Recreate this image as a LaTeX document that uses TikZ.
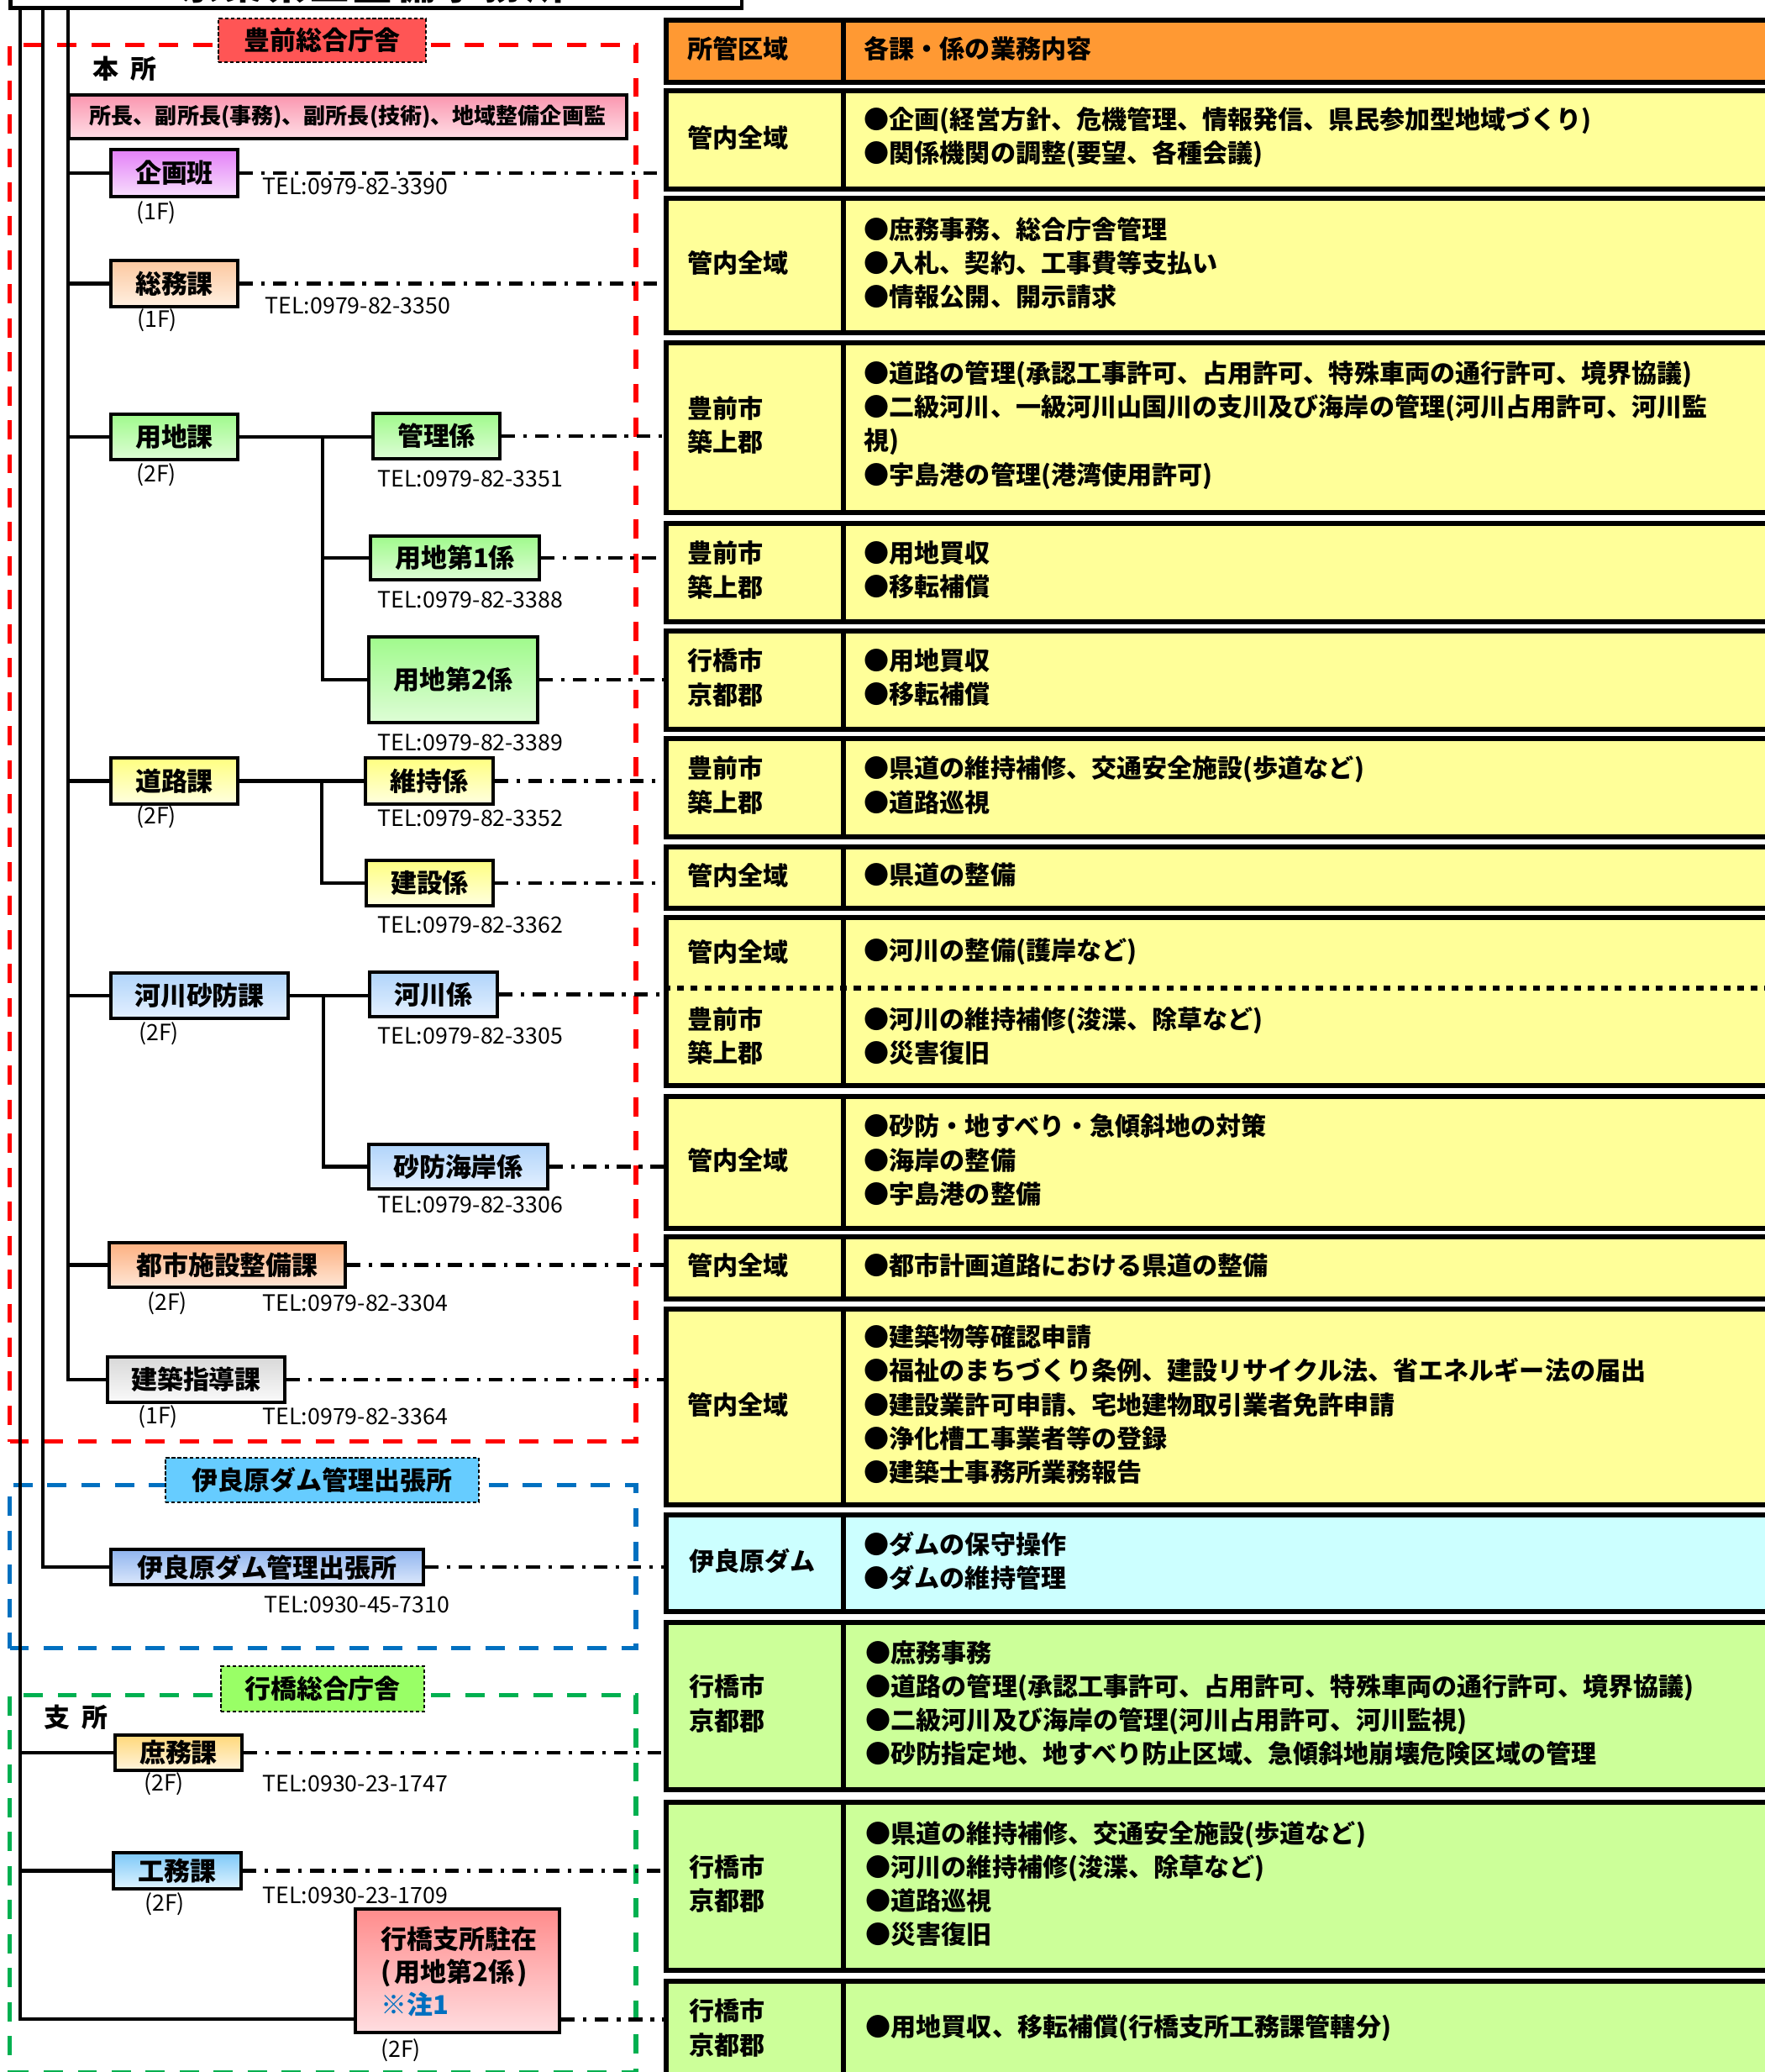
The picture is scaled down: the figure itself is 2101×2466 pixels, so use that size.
\documentclass[tikz,border=0pt]{standalone}
\usepackage{fontspec}
\setmainfont{Noto Sans CJK JP}
\usetikzlibrary{calc}
\definecolor{hdr}{RGB}{255,153,51}
\definecolor{yel}{RGB}{255,255,153}
\definecolor{cya}{RGB}{204,255,255}
\definecolor{grn}{RGB}{204,255,153}
\definecolor{redg}{RGB}{255,0,0}
\definecolor{blug}{RGB}{0,112,192}
\definecolor{grng}{RGB}{0,176,80}
\definecolor{tagR}{RGB}{255,85,85}
\definecolor{tagB}{RGB}{102,204,255}
\definecolor{tagG}{RGB}{153,255,102}
\definecolor{vioT}{RGB}{228,128,248}\definecolor{vioB}{RGB}{247,222,252}
\definecolor{pchT}{RGB}{252,200,160}\definecolor{pchB}{RGB}{255,240,225}
\definecolor{gT}{RGB}{160,250,140}\definecolor{gB}{RGB}{222,253,214}
\definecolor{yT}{RGB}{255,255,128}\definecolor{yB}{RGB}{255,255,224}
\definecolor{bT}{RGB}{176,212,250}\definecolor{bB}{RGB}{228,240,255}
\definecolor{oT}{RGB}{252,176,128}\definecolor{oB}{RGB}{255,230,214}
\definecolor{gyT}{RGB}{216,216,216}\definecolor{gyB}{RGB}{250,250,250}
\definecolor{dbT}{RGB}{143,180,238}\definecolor{dbB}{RGB}{220,232,252}
\definecolor{goT}{RGB}{255,216,122}\definecolor{goB}{RGB}{255,244,220}
\definecolor{skT}{RGB}{124,200,248}\definecolor{skB}{RGB}{224,244,255}
\definecolor{pkT}{RGB}{255,140,140}\definecolor{pkB}{RGB}{255,221,224}
\definecolor{bnT}{RGB}{250,150,175}\definecolor{bnB}{RGB}{255,222,230}
\definecolor{notec}{RGB}{0,112,192}
\newcommand\fntTab{\fontsize{8.55pt}{11.4pt}\selectfont\bfseries}
\newcommand\fntBox{\fontsize{8.8pt}{11.1pt}\selectfont\bfseries}
\newcommand\fntBan{\fontsize{7.4pt}{9pt}\selectfont\bfseries}
\newcommand\fntTel{\fontsize{7.6pt}{9pt}\selectfont}
\newcommand\fntTitle{\fontsize{13.1pt}{15pt}\selectfont\bfseries}
\begin{document}
\begin{tikzpicture}[x=0.01cm,y=-0.01cm,
  box/.style={draw=black, line width=1.2pt, inner sep=0pt, font=\fntBox},
  conn/.style={line width=1.3pt},
  dd/.style={line width=1.4pt, dash pattern=on 4.6pt off 2.8pt on 1.2pt off 2.8pt},
  grp/.style={line width=1.5pt, dash pattern=on 6.5pt off 5pt, inner sep=0pt, anchor=north west},
  tag/.style={draw=black, line width=0.6pt, dash pattern=on 1.2pt off 0.8pt, inner sep=0pt, font=\fntBox},
  cell/.style={draw=black, line width=1.7pt, inner sep=0pt, anchor=north west},
  ctext/.style={anchor=west, align=left, font=\fntTab, inner sep=0pt},
  tel/.style={anchor=west, font=\fntTel, inner sep=0pt},
  flr/.style={font=\fntTel, inner sep=0pt},
]
\useasboundingbox (0,0) rectangle (2101,2466);
\fill[white] (0,0) rectangle (2101,2466);

% ---------- title box (cut off at the top) ----------
\node[draw=black, line width=1.3pt, minimum width=8.7cm, minimum height=1cm, anchor=south west, inner sep=0pt] (title) at (10,12) {};
\node[anchor=base, font=\fntTitle, inner sep=0pt] (titletext) at (444,-1) {京\hspace{1.5pt}築\hspace{1.5pt}県\hspace{1.5pt}土\hspace{1.5pt}整\hspace{1.5pt}備\hspace{1.5pt}事\hspace{1.5pt}務\hspace{1.5pt}所};

% ---------- dashed group frames ----------
\node[grp, draw=redg, minimum width=7.45cm, minimum height=16.61cm] (gred) at (9,51) {};
\node[grp, draw=blug, minimum width=7.45cm, minimum height=1.94cm] (gblue) at (9,1765) {};
\node[grp, draw=grng, minimum width=7.45cm, minimum height=4.49cm] (ggreen) at (9,2015) {};

% ---------- table ----------
\node[cell, fill=hdr, minimum width=2.11cm, minimum height=0.74cm] (r0) at (790,21) {};
\node[cell, fill=hdr, minimum width=11.39cm, minimum height=0.74cm] (c0) at (1001,21) {};
\node[ctext] (t0) at (818,58) {所管区域};
\node[ctext] (d0) at (1028,58) {各課・係の業務内容};
\node[cell, fill=yel, minimum width=2.11cm, minimum height=1.17cm] (r1) at (790,105) {};
\node[cell, fill=yel, minimum width=11.39cm, minimum height=1.17cm] (c1) at (1001,105) {};
\node[ctext] (t1) at (818,163.5) {管内全域};
\node[ctext] (d1) at (1028,163.5) {●企画(経営方針、危機管理、情報発信、県民参加型地域づくり)\\●関係機関の調整(要望、各種会議)};
\node[cell, fill=yel, minimum width=2.11cm, minimum height=1.60cm] (r2) at (790,233) {};
\node[cell, fill=yel, minimum width=11.39cm, minimum height=1.60cm] (c2) at (1001,233) {};
\node[ctext] (t2) at (818,313) {管内全域};
\node[ctext] (d2) at (1028,313) {●庶務事務、総合庁舎管理\\●入札、契約、工事費等支払い\\●情報公開、開示請求};
\node[cell, fill=yel, minimum width=2.11cm, minimum height=2.02cm] (r3) at (790,405) {};
\node[cell, fill=yel, minimum width=11.39cm, minimum height=2.02cm] (c3) at (1001,405) {};
\node[ctext] (t3) at (818,506) {豊前市\\築上郡};
\node[ctext] (d3) at (1028,506) {●道路の管理(承認工事許可、占用許可、特殊車両の通行許可、境界協議)\\●二級河川、一級河川山国川の支川及び海岸の管理(河川占用許可、河川監\\視)\\●宇島港の管理(港湾使用許可)};
\node[cell, fill=yel, minimum width=2.11cm, minimum height=1.17cm] (r4) at (790,620) {};
\node[cell, fill=yel, minimum width=11.39cm, minimum height=1.17cm] (c4) at (1001,620) {};
\node[ctext] (t4) at (818,678.5) {豊前市\\築上郡};
\node[ctext] (d4) at (1028,678.5) {●用地買収\\●移転補償};
\node[cell, fill=yel, minimum width=2.11cm, minimum height=1.17cm] (r5) at (790,748) {};
\node[cell, fill=yel, minimum width=11.39cm, minimum height=1.17cm] (c5) at (1001,748) {};
\node[ctext] (t5) at (818,806.5) {行橋市\\京都郡};
\node[ctext] (d5) at (1028,806.5) {●用地買収\\●移転補償};
\node[cell, fill=yel, minimum width=2.11cm, minimum height=1.17cm] (r6) at (790,876) {};
\node[cell, fill=yel, minimum width=11.39cm, minimum height=1.17cm] (c6) at (1001,876) {};
\node[ctext] (t6) at (818,934.5) {豊前市\\築上郡};
\node[ctext] (d6) at (1028,934.5) {●県道の維持補修、交通安全施設(歩道など)\\●道路巡視};
\node[cell, fill=yel, minimum width=2.11cm, minimum height=0.73cm] (r7) at (790,1005) {};
\node[cell, fill=yel, minimum width=11.39cm, minimum height=0.73cm] (c7) at (1001,1005) {};
\node[ctext] (t7) at (818,1041.5) {管内全域};
\node[ctext] (d7) at (1028,1041.5) {●県道の整備};
\node[cell, fill=yel, minimum width=2.11cm, minimum height=2.00cm] (r8) at (790,1089) {};
\node[cell, fill=yel, minimum width=11.39cm, minimum height=2.00cm] (c8) at (1001,1089) {};
\draw[line width=1.7pt, dash pattern=on 2.3pt off 2.3pt] (r8.west |- 0,1176) -- (c8.east |- 0,1176);
\node[ctext] (t8a) at (818,1133) {管内全域};
\node[ctext] (d8a) at (1028,1133) {●河川の整備(護岸など)};
\node[ctext] (t8b) at (818,1233) {豊前市\\築上郡};
\node[ctext] (d8b) at (1028,1233) {●河川の維持補修(浚渫、除草など)\\●災害復旧};
\node[cell, fill=yel, minimum width=2.11cm, minimum height=1.57cm] (r9) at (790,1302) {};
\node[cell, fill=yel, minimum width=11.39cm, minimum height=1.57cm] (c9) at (1001,1302) {};
\node[ctext] (t9) at (818,1380.5) {管内全域};
\node[ctext] (d9) at (1028,1380.5) {●砂防・地すべり・急傾斜地の対策\\●海岸の整備\\●宇島港の整備};
\node[cell, fill=yel, minimum width=2.11cm, minimum height=0.74cm] (r10) at (790,1469) {};
\node[cell, fill=yel, minimum width=11.39cm, minimum height=0.74cm] (c10) at (1001,1469) {};
\node[ctext] (t10) at (818,1506) {管内全域};
\node[ctext] (d10) at (1028,1506) {●都市計画道路における県道の整備};
\node[cell, fill=yel, minimum width=2.11cm, minimum height=2.33cm] (r11) at (790,1555) {};
\node[cell, fill=yel, minimum width=11.39cm, minimum height=2.33cm] (c11) at (1001,1555) {};
\node[ctext] (t11) at (818,1671.5) {管内全域};
\node[ctext] (d11) at (1028,1671.5) {●建築物等確認申請\\●福祉のまちづくり条例、建設リサイクル法、省エネルギー法の届出\\●建設業許可申請、宅地建物取引業者免許申請\\●浄化槽工事業者等の登録\\●建築士事務所業務報告};
\node[cell, fill=cya, minimum width=2.11cm, minimum height=1.15cm] (r12) at (790,1800) {};
\node[cell, fill=cya, minimum width=11.39cm, minimum height=1.15cm] (c12) at (1001,1800) {};
\node[ctext] (t12) at (820,1858) {伊良原ダム};
\node[ctext] (d12) at (1028,1858) {●ダムの保守操作\\●ダムの維持管理};
\node[cell, fill=grn, minimum width=2.11cm, minimum height=1.99cm] (r13) at (790,1928) {};
\node[cell, fill=grn, minimum width=11.39cm, minimum height=1.99cm] (c13) at (1001,1928) {};
\node[ctext] (t13) at (820,2027.5) {行橋市\\京都郡};
\node[ctext] (d13) at (1030,2027.5) {●庶務事務\\●道路の管理(承認工事許可、占用許可、特殊車両の通行許可、境界協議)\\●二級河川及び海岸の管理(河川占用許可、河川監視)\\●砂防指定地、地すべり防止区域、急傾斜地崩壊危険区域の管理};
\node[cell, fill=grn, minimum width=2.11cm, minimum height=2.00cm] (r14) at (790,2142) {};
\node[cell, fill=grn, minimum width=11.39cm, minimum height=2.00cm] (c14) at (1001,2142) {};
\node[ctext] (t14) at (820,2242) {行橋市\\京都郡};
\node[ctext] (d14) at (1030,2242) {●県道の維持補修、交通安全施設(歩道など)\\●河川の維持補修(浚渫、除草など)\\●道路巡視\\●災害復旧};
\node[cell, fill=grn, minimum width=2.11cm, minimum height=1.17cm] (r15) at (790,2355) {};
\node[cell, fill=grn, minimum width=11.39cm, minimum height=1.17cm] (c15) at (1001,2355) {};
\node[ctext] (t15) at (820,2413.5) {行橋市\\京都郡};
\node[ctext] (d15) at (1030,2413.5) {●用地買収、移転補償(行橋支所工務課管轄分)};

% ---------- boxes ----------
\node[box, top color=bnT, bottom color=bnB, minimum width=6.64cm, minimum height=0.52cm, font=\fntBan] (banner) at (414,139) {所長、副所長(事務)、副所長(技術)、地域整備企画監};
\node[box, top color=vioT, bottom color=vioB, minimum width=1.51cm, minimum height=0.56cm] (kikaku) at (207.5,206) {企画班};
\node[box, top color=pchT, bottom color=pchB, minimum width=1.51cm, minimum height=0.55cm] (somu) at (207.5,337.5) {総務課};
\node[box, top color=gT, bottom color=gB, minimum width=1.51cm, minimum height=0.54cm] (yochi) at (207.5,520) {用地課};
\node[box, top color=gT, bottom color=gB, minimum width=1.51cm, minimum height=0.54cm] (kanri) at (519.5,519) {管理係};
\node[box, top color=gT, bottom color=gB, minimum width=2.01cm, minimum height=0.52cm] (yochi1) at (541.5,664) {用地第1係};
\node[box, top color=gT, bottom color=gB, minimum width=2.01cm, minimum height=1.02cm] (yochi2) at (539.5,809) {用地第2係};
\node[box, top color=yT, bottom color=yB, minimum width=1.51cm, minimum height=0.55cm] (doro) at (207.5,929.5) {道路課};
\node[box, top color=yT, bottom color=yB, minimum width=1.52cm, minimum height=0.55cm] (iji) at (511,929.5) {維持係};
\node[box, top color=yT, bottom color=yB, minimum width=1.51cm, minimum height=0.54cm] (kensetsu) at (511.5,1051) {建設係};
\node[box, top color=bT, bottom color=bB, minimum width=2.11cm, minimum height=0.54cm] (kasensabo) at (237.5,1185) {河川砂防課};
\node[box, top color=bT, bottom color=bB, minimum width=1.52cm, minimum height=0.53cm] (kasen) at (516,1183.5) {河川係};
\node[box, top color=bT, bottom color=bB, minimum width=2.13cm, minimum height=0.53cm] (sabo) at (545.5,1388.5) {砂防海岸係};
\node[box, top color=oT, bottom color=oB, minimum width=2.81cm, minimum height=0.53cm] (toshi) at (270.5,1505.5) {都市施設整備課};
\node[box, top color=gyT, bottom color=gyB, minimum width=2.11cm, minimum height=0.54cm] (kenchiku) at (233.5,1642) {建築指導課};
\node[box, top color=dbT, bottom color=dbB, minimum width=3.72cm, minimum height=0.42cm] (irahara) at (318,1865) {伊良原ダム管理出張所};
\node[box, top color=goT, bottom color=goB, minimum width=1.51cm, minimum height=0.42cm] (shomu) at (212.5,2086) {庶務課};
\node[box, top color=skT, bottom color=skB, minimum width=1.52cm, minimum height=0.43cm] (komu) at (211,2226.5) {工務課};
\node[box, top color=pkT, bottom color=pkB, minimum width=2.43cm, minimum height=1.47cm] (chuzai) at (544.5,2345.5) {};
\node[anchor=west, align=left, font=\fntBox, inner sep=0pt] (chuzaitxt) at (453,2346) {行橋支所駐在\\(\kern1pt用地第2係\kern1pt)\\\textcolor{notec}{※注1}};

% ---------- group tags ----------
\node[tag, fill=tagR, minimum width=2.47cm, minimum height=0.52cm] (tagred) at (383.5,48) {豊前総合庁舎};
\node[tag, fill=tagB, minimum width=3.73cm, minimum height=0.53cm] (tagblue) at (383.5,1761.5) {伊良原ダム管理出張所};
\node[tag, fill=tagG, minimum width=2.42cm, minimum height=0.54cm] (taggreen) at (384,2010) {行橋総合庁舎};
\node[font=\fntBox, inner sep=0pt] (honsho) at (148,82) {本\hspace{4pt}所};
\node[font=\fntBox, inner sep=0pt] (shisho) at (90,2044) {支\hspace{4pt}所};

% ---------- trunk lines ----------
\coordinate (ta) at (24,12);
\coordinate (tb) at (51,12);
\coordinate (tc) at (81,12);
\draw[conn] (ta) |- ([yshift=0.18cm]chuzai.south west);
\draw[conn] (tb) |- (irahara.west);
\draw[conn] (tc) |- (kenchiku.west);
\foreach \n in {kikaku,somu,yochi,doro,kasensabo,toshi}
  \draw[conn] (tc |- \n.west) -- (\n.west);
\foreach \n in {shomu,komu}
  \draw[conn] (ta |- \n.west) -- (\n.west);
\coordinate (yb) at (384,520);
\draw[conn] (yochi.east) -- (yochi.east -| kanri.west);
\draw[conn] (yb) |- (yochi1.west);
\draw[conn] (yb) |- (yochi2.west);
\coordinate (db) at (383,929.5);
\draw[conn] (doro.east) -- (iji.west);
\draw[conn] (db) |- (kensetsu.west);
\coordinate (kb) at (385,1184);
\draw[conn] (kasensabo.east) -- (kasensabo.east -| kasen.west);
\draw[conn] (kb) |- (sabo.west);

% ---------- dash-dot links to the table ----------
\draw[dd] (kikaku.east) -- (kikaku.east -| r1.west);
\draw[dd] (somu.east) -- (somu.east -| r2.west);
\draw[dd] (kanri.east) -- (kanri.east -| r3.west);
\draw[dd] (yochi1.east) -- (yochi1.east -| r4.west);
\draw[dd] (yochi2.east) -- (yochi2.east -| r5.west);
\draw[dd] (iji.east) -- (iji.east -| r6.west);
\draw[dd] (kensetsu.east) -- (kensetsu.east -| r7.west);
\draw[dd] (kasen.east) -- (kasen.east -| r8.west);
\draw[dd] (sabo.east) -- (sabo.east -| r9.west);
\draw[dd] (toshi.east) -- (toshi.east -| r10.west);
\draw[dd] (kenchiku.east) -- (kenchiku.east -| r11.west);
\draw[dd] (irahara.east) -- (irahara.east -| r12.west);
\draw[dd] (shomu.east) -- (shomu.east -| r13.west);
\draw[dd] (komu.east) -- (komu.east -| r14.west);
\draw[dd] ([yshift=0.18cm]chuzai.south east) -- ([yshift=0.18cm]chuzai.south east -| r15.west);

% ---------- floors and phone numbers ----------
\node[flr] (f1) at (186,253) {(1F)};
\node[tel] (p1) at (312,222) {TEL:0979-82-3390};
\node[flr] (f2) at (187,381) {(1F)};
\node[tel] (p2) at (315,364) {TEL:0979-82-3350};
\node[flr] (f3) at (186,565) {(2F)};
\node[tel] (p3) at (449,570) {TEL:0979-82-3351};
\node[tel] (p4) at (449,714) {TEL:0979-82-3388};
\node[tel] (p5) at (449,884) {TEL:0979-82-3389};
\node[flr] (f6) at (186,972) {(2F)};
\node[tel] (p6) at (449,974) {TEL:0979-82-3352};
\node[tel] (p7) at (449,1101) {TEL:0979-82-3362};
\node[flr] (f8) at (189,1230) {(2F)};
\node[tel] (p8) at (449,1233) {TEL:0979-82-3305};
\node[tel] (p9) at (449,1434) {TEL:0979-82-3306};
\node[flr] (f10) at (199,1551) {(2F)};
\node[tel] (p10) at (312,1551) {TEL:0979-82-3304};
\node[flr] (f11) at (188,1686) {(1F)};
\node[tel] (p11) at (312,1686) {TEL:0979-82-3364};
\node[tel] (p12) at (314,1910) {TEL:0930-45-7310};
\node[flr] (f13) at (195,2123) {(2F)};
\node[tel] (p13) at (312,2123) {TEL:0930-23-1747};
\node[flr] (f14) at (196,2266) {(2F)};
\node[tel] (p14) at (312,2256) {TEL:0930-23-1709};
\node[flr] (f15) at (477,2440) {(2F)};
\end{tikzpicture}
\end{document}
